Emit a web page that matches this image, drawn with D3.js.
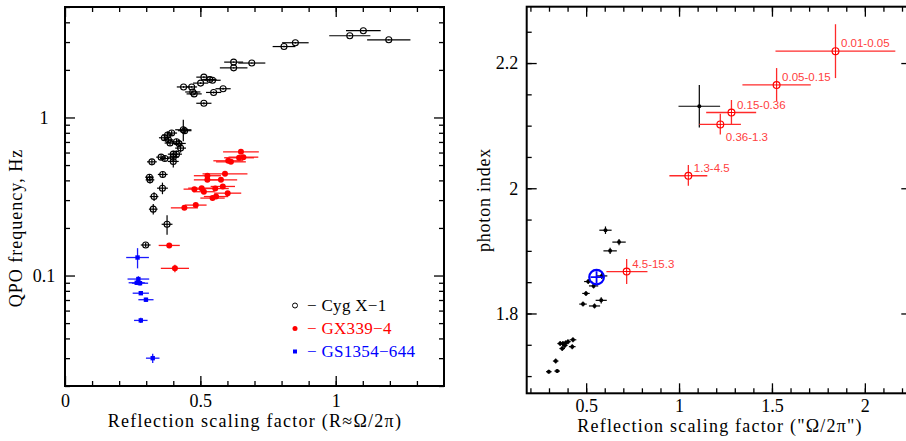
<!DOCTYPE html>
<html>
<head>
<meta charset="utf-8">
<script src="https://cdn.jsdelivr.net/npm/d3@7"></script>
<style>
  body { margin: 0; background: #fff; }
  svg { display: block; }
</style>
</head>
<body>
<svg width="906" height="441"></svg>
<script>
// ---- left panel: QPO frequency vs reflection ----
var cygR    = [1.102,1.052,1.196,0.851,0.809,0.623,0.690,0.623,0.513,0.545,0.535,0.501,0.438,0.468,0.584,0.472,0.477,0.549,0.513,
               0.437,0.442,0.394,0.379,0.367,0.382,0.388,0.412,0.421,0.427,0.412,0.400,0.400,0.400,0.355,0.369,0.321,0.361,0.312,0.314,0.360,0.329,0.326,0.377,0.298];
var cygRerr = [0.064,0.076,0.080,0.049,0.042,0.035,0.050,0.051,0.028,0.030,0.025,0.028,0.025,0.020,0.028,0.028,0.028,0.028,0.028,
               0.030,0.025,0.020,0.020,0.020,0.018,0.020,0.020,0.025,0.020,0.020,0.020,0.020,0.020,0.018,0.018,0.018,0.018,0.016,0.016,0.020,0.016,0.016,0.020,0.018];
var cygF    = [3.54,3.29,3.10,2.97,2.81,2.24,2.21,2.06,1.80,1.72,1.74,1.65,1.56,1.56,1.52,1.45,1.41,1.44,1.23,
               0.836,0.825,0.797,0.774,0.744,0.722,0.689,0.702,0.685,0.640,0.586,0.586,0.561,0.527,0.561,0.550,0.524,0.436,0.419,0.403,0.357,0.316,0.263,0.211,0.156];
var cygFerr = [0.03,0.03,0.03,0.03,0.03,0.02,0.02,0.02,0.02,0.02,0.02,0.02,0.02,0.02,0.02,0.02,0.02,0.02,0.02,
               0.13,0.04,0.03,0.04,0.03,0.03,0.03,0.03,0.04,0.04,0.03,0.03,0.03,0.045,0.02,0.02,0.02,0.02,0.02,0.02,0.03,0.02,0.02,0.03,0.005];

var gxR    = [0.650,0.659,0.643,0.603,0.613,0.591,0.526,0.526,0.576,0.478,0.505,0.513,0.555,0.583,0.601,0.558,0.545,0.483,0.441,0.385,0.406];
var gxRerr = [0.066,0.055,0.055,0.055,0.055,0.083,0.050,0.050,0.060,0.040,0.050,0.040,0.050,0.045,0.050,0.045,0.045,0.040,0.050,0.039,0.052];
var gxF    = [0.606,0.561,0.556,0.532,0.524,0.440,0.428,0.403,0.403,0.352,0.357,0.339,0.355,0.366,0.332,0.316,0.309,0.279,0.268,0.155,0.111];
var gxFerr = [0.01,0.01,0.01,0.01,0.01,0.01,0.01,0.01,0.01,0.01,0.01,0.01,0.01,0.01,0.01,0.01,0.01,0.005,0.005,0.003,0.006];

var gsR    = [0.268,0.271,0.265,0.277,0.280,0.299,0.280,0.324];
var gsRerr = [0.042,0.040,0.030,0.030,0.030,0.028,0.025,0.025];
var gsF    = [0.130,0.095,0.090,0.0894,0.0773,0.0703,0.0520,0.0300];
var gsFerr = [0.019,0.004,0.003,0.003,0.002,0.002,0.002,0.002];

var legendNames = ["Cyg X\u22121", "GX339\u22124", "GS1354\u2212644"];

// ---- right panel: photon index vs reflection ----
var blkR    = [1.109,0.604,0.677,0.629,0.584,0.511,0.540,0.499,0.483,0.545,0.581,
               0.360,0.375,0.389,0.402,0.429,0.371,0.425,0.385,0.336,0.299,0.344];
var blkRerr = [0.112,0.033,0.036,0.036,0.030,0.022,0.025,0.020,0.020,0.030,0.030,
               0.015,0.015,0.015,0.015,0.018,0.015,0.018,0.015,0.015,0.015,0.015];
var blkG    = [2.131,1.933,1.914,1.900,1.860,1.851,1.844,1.832,1.815,1.812,1.821,
               1.752,1.752,1.753,1.755,1.758,1.744,1.747,1.749,1.724,1.707,1.708];
var blkGerr = [0.034,0.006,0.005,0.005,0.005,0.004,0.004,0.004,0.004,0.004,0.005,
               0.004,0.004,0.004,0.004,0.004,0.004,0.004,0.004,0.004,0.003,0.003];

var bandLabels = ["0.01-0.05","0.05-0.15","0.15-0.36","0.36-1.3","1.3-4.5","4.5-15.3"];
var bandR   = [1.842,1.525,1.282,1.222,1.050,0.718];
var bandRlo = [1.519,1.341,1.146,1.109,0.948,0.609];
var bandRhi = [2.164,1.709,1.415,1.333,1.152,0.830];
var bandG   = [2.219,2.165,2.121,2.102,2.020,1.867];
var bandGlo = [2.176,2.139,2.101,2.086,2.004,1.847];
var bandGhi = [2.262,2.192,2.141,2.119,2.037,1.887];

var gs2R = [0.556], gs2G = [1.858];

var svg = d3.select("svg");
var serif = "'Liberation Serif', 'DejaVu Serif', serif";

// frame with PGPLOT-like inward ticks on all sides
function frame(g, x, y, xMaj, xMin, yMaj, yMin, xFmt, yFmt) {
    var xr = x.range(), yr = y.range();
    var mk = [
        function() { return d3.axisBottom(x); },
        function() { return d3.axisTop(x); },
        function() { return d3.axisLeft(y); },
        function() { return d3.axisRight(y); }
    ];
    var pos = ["translate(0," + yr[0] + ")", "translate(0," + yr[1] + ")",
               "translate(" + xr[0] + ",0)", "translate(" + xr[1] + ",0)"];
    mk.forEach(function(f, i) {
        var isX = i < 2;
        g.append("g").attr("transform", pos[i])
            .call(f().tickValues(isX ? xMin : yMin).tickSizeInner(-5).tickSizeOuter(0).tickFormat(""));
        g.append("g").attr("class", "maj" + i).attr("transform", pos[i])
            .call(f().tickValues(isX ? xMaj : yMaj).tickSizeInner(-10).tickSizeOuter(0)
                .tickFormat(i == 0 ? xFmt : i == 2 ? yFmt : ""));
    });
    g.selectAll(".domain").remove();
    g.selectAll(".tick line").attr("stroke", "#000").attr("stroke-width", 1.3);
    g.selectAll(".tick text").attr("font-family", serif).attr("font-size", 18).attr("fill", "#000");
    g.append("rect")
        .attr("x", xr[0]).attr("y", yr[1])
        .attr("width", xr[1] - xr[0]).attr("height", yr[0] - yr[1])
        .attr("fill", "none").attr("stroke", "#000").attr("stroke-width", 2);
}

function errBars(g, x, y, xs, xlo, xhi, ys, ylo, yhi, color, w) {
    var idx = d3.range(xs.length);
    g.selectAll(null).data(idx).enter().append("line")
        .attr("x1", i => x(xlo[i])).attr("x2", i => x(xhi[i]))
        .attr("y1", i => y(ys[i])).attr("y2", i => y(ys[i]))
        .attr("stroke", color).attr("stroke-width", w);
    g.selectAll(null).data(idx).enter().append("line")
        .attr("x1", i => x(xs[i])).attr("x2", i => x(xs[i]))
        .attr("y1", i => y(ylo[i])).attr("y2", i => y(yhi[i]))
        .attr("stroke", color).attr("stroke-width", w);
}

function lo(v, e) { return v.map((d, i) => d - e[i]); }
function hi(v, e) { return v.map((d, i) => d + e[i]); }

// ================= left panel =================
var xL = d3.scaleLinear().domain([0, 1.4]).range([65, 444]);
var yL = d3.scaleLog().domain([0.02, 5]).range([386, 7]);
var gL = svg.append("g");

var minorLog = [];
[0.01, 0.1, 1].forEach(function(dec) {
    for (var k = 2; k <= 9; k++) { var v = k * dec; if (v >= 0.02 && v <= 5) minorLog.push(v); }
});
frame(gL, xL, yL, [0, 0.5, 1], d3.range(1, 14).map(d => d / 10),
      [0.1, 1], minorLog, d => d3.format("")(d), d => (d == 1 ? "1" : "0.1"));

gL.select(".maj0").selectAll("text").attr("y", 20.5).attr("dy", null);
gL.select(".maj2").selectAll("text").attr("x", -21).attr("text-anchor", "middle").attr("dy", "0.32em");

errBars(gL, xL, yL, cygR, lo(cygR, cygRerr), hi(cygR, cygRerr), cygF, lo(cygF, cygFerr), hi(cygF, cygFerr), "#000", 1.2);
errBars(gL, xL, yL, gxR, lo(gxR, gxRerr), hi(gxR, gxRerr), gxF, lo(gxF, gxFerr), hi(gxF, gxFerr), "#ff1a1a", 1.3);
errBars(gL, xL, yL, gsR, lo(gsR, gsRerr), hi(gsR, gsRerr), gsF, lo(gsF, gsFerr), hi(gsF, gsFerr), "#1a1aff", 1.3);

gL.selectAll(null).data(d3.range(cygR.length)).enter().append("circle")
    .attr("cx", i => xL(cygR[i])).attr("cy", i => yL(cygF[i])).attr("r", 3)
    .attr("fill", "none").attr("stroke", "#000").attr("stroke-width", 1.1);
gL.selectAll(null).data(d3.range(gxR.length)).enter().append("circle")
    .attr("cx", i => xL(gxR[i])).attr("cy", i => yL(gxF[i])).attr("r", 3)
    .attr("fill", "#ff0000");
gL.selectAll(null).data(d3.range(gsR.length)).enter().append("rect")
    .attr("x", i => xL(gsR[i]) - 2.2).attr("y", i => yL(gsF[i]) - 2.2)
    .attr("width", 4.4).attr("height", 4.4).attr("fill", "#0000ff");

// legend
var legColors = ["#000", "#ff0000", "#0000ff"];
var leg = gL.append("g").attr("transform", "translate(295,305.5)");
legendNames.forEach(function(name, i) {
    var row = leg.append("g").attr("transform", "translate(0," + (i * 23) + ")");
    if (i == 0) row.append("circle").attr("r", 2.5).attr("fill", "none").attr("stroke", "#000").attr("stroke-width", 1);
    else if (i == 1) row.append("circle").attr("r", 2.5).attr("fill", legColors[i]);
    else row.append("rect").attr("x", -2).attr("y", -2).attr("width", 4).attr("height", 4).attr("fill", legColors[i]);
    row.append("text").attr("x", 12).attr("y", 5.5)
        .attr("font-family", serif).attr("font-size", 17).attr("letter-spacing", 0.3).attr("fill", legColors[i])
        .text("\u2212  " + name);
});

gL.append("text").attr("x", 255).attr("y", 427).attr("text-anchor", "middle")
    .attr("font-family", serif).attr("font-size", 18).attr("letter-spacing", 1.25)
    .text("Reflection scaling factor (R\u2248\u03a9/2\u03c0)");
gL.append("text").attr("transform", "translate(22,228) rotate(-90)").attr("text-anchor", "middle")
    .attr("font-family", serif).attr("font-size", 18).attr("letter-spacing", 1)
    .text("QPO frequency, Hz");

// ================= right panel =================
var xR = d3.scaleLinear().domain([0.18, 2.25]).range([526.7, 911.3]);
var yR = d3.scaleLinear().domain([1.6725, 2.29]).range([393.3, 6.7]);
var gR = svg.append("g");

frame(gR, xR, yR, [0.5, 1, 1.5, 2], d3.range(2, 23).map(d => d / 10),
      [1.8, 2, 2.2], d3.range(34, 46).map(d => d / 20), d => d3.format("")(d), d => d3.format("")(d));
gR.select(".maj0").selectAll("text").attr("y", 18.4).attr("dy", null);
gR.select(".maj2").selectAll("text").attr("x", -8.5).attr("dy", "0.32em");

errBars(gR, xR, yR, blkR, lo(blkR, blkRerr), hi(blkR, blkRerr), blkG, lo(blkG, blkGerr), hi(blkG, blkGerr), "#000", 1.2);
gR.selectAll(null).data(d3.range(blkR.length)).enter().append("circle")
    .attr("cx", i => xR(blkR[i])).attr("cy", i => yR(blkG[i])).attr("r", 2).attr("fill", "#000");

// XMM point (blue)
gR.selectAll(null).data(gs2R).enter().append("circle")
    .attr("cx", (d, i) => xR(d)).attr("cy", (d, i) => yR(gs2G[i])).attr("r", 7.3)
    .attr("fill", "none").attr("stroke", "#0000ff").attr("stroke-width", 2.2);
gR.selectAll(null).data(gs2R).enter().append("path")
    .attr("d", (d, i) => "M" + (xR(d) - 6) + "," + yR(gs2G[i]) + "h12M" + xR(d) + "," + (yR(gs2G[i]) - 6) + "v12")
    .attr("stroke", "#0000ff").attr("stroke-width", 1.8);

// energy bands (red)
errBars(gR, xR, yR, bandR, bandRlo, bandRhi, bandG, bandGlo, bandGhi, "#ff2a2a", 1.3);
gR.selectAll(null).data(d3.range(bandR.length)).enter().append("circle")
    .attr("cx", i => xR(bandR[i])).attr("cy", i => yR(bandG[i])).attr("r", 3.4)
    .attr("fill", "#fff").attr("stroke", "#ff0000").attr("stroke-width", 1.2);
gR.selectAll(null).data(d3.range(bandR.length)).enter().append("path")
    .attr("d", i => "M" + (xR(bandR[i]) - 3.4) + "," + yR(bandG[i]) + "h6.8M" + xR(bandR[i]) + "," + (yR(bandG[i]) - 3.4) + "v6.8")
    .attr("stroke", "#ff0000").attr("stroke-width", 1);
gR.selectAll(null).data(d3.range(bandR.length)).enter().append("text")
    .attr("x", i => xR(bandR[i]) + 5.5)
    .attr("y", i => yR(bandG[i]) + (bandLabels[i] == "0.36-1.3" ? 16.5 : -4))
    .attr("font-family", "'Liberation Sans', Arial, sans-serif").attr("font-size", 11.5)
    .attr("fill", "#ff4040")
    .text(i => bandLabels[i]);

gR.append("text").attr("x", 720).attr("y", 431.5).attr("text-anchor", "middle")
    .attr("font-family", serif).attr("font-size", 18).attr("letter-spacing", 1.2)
    .text("Reflection scaling factor (\"\u03a9/2\u03c0\")");
gR.append("text").attr("transform", "translate(490,200) rotate(-90)").attr("text-anchor", "middle")
    .attr("font-family", serif).attr("font-size", 18).attr("letter-spacing", 0.8)
    .text("photon index");
</script>
</body>
</html>
